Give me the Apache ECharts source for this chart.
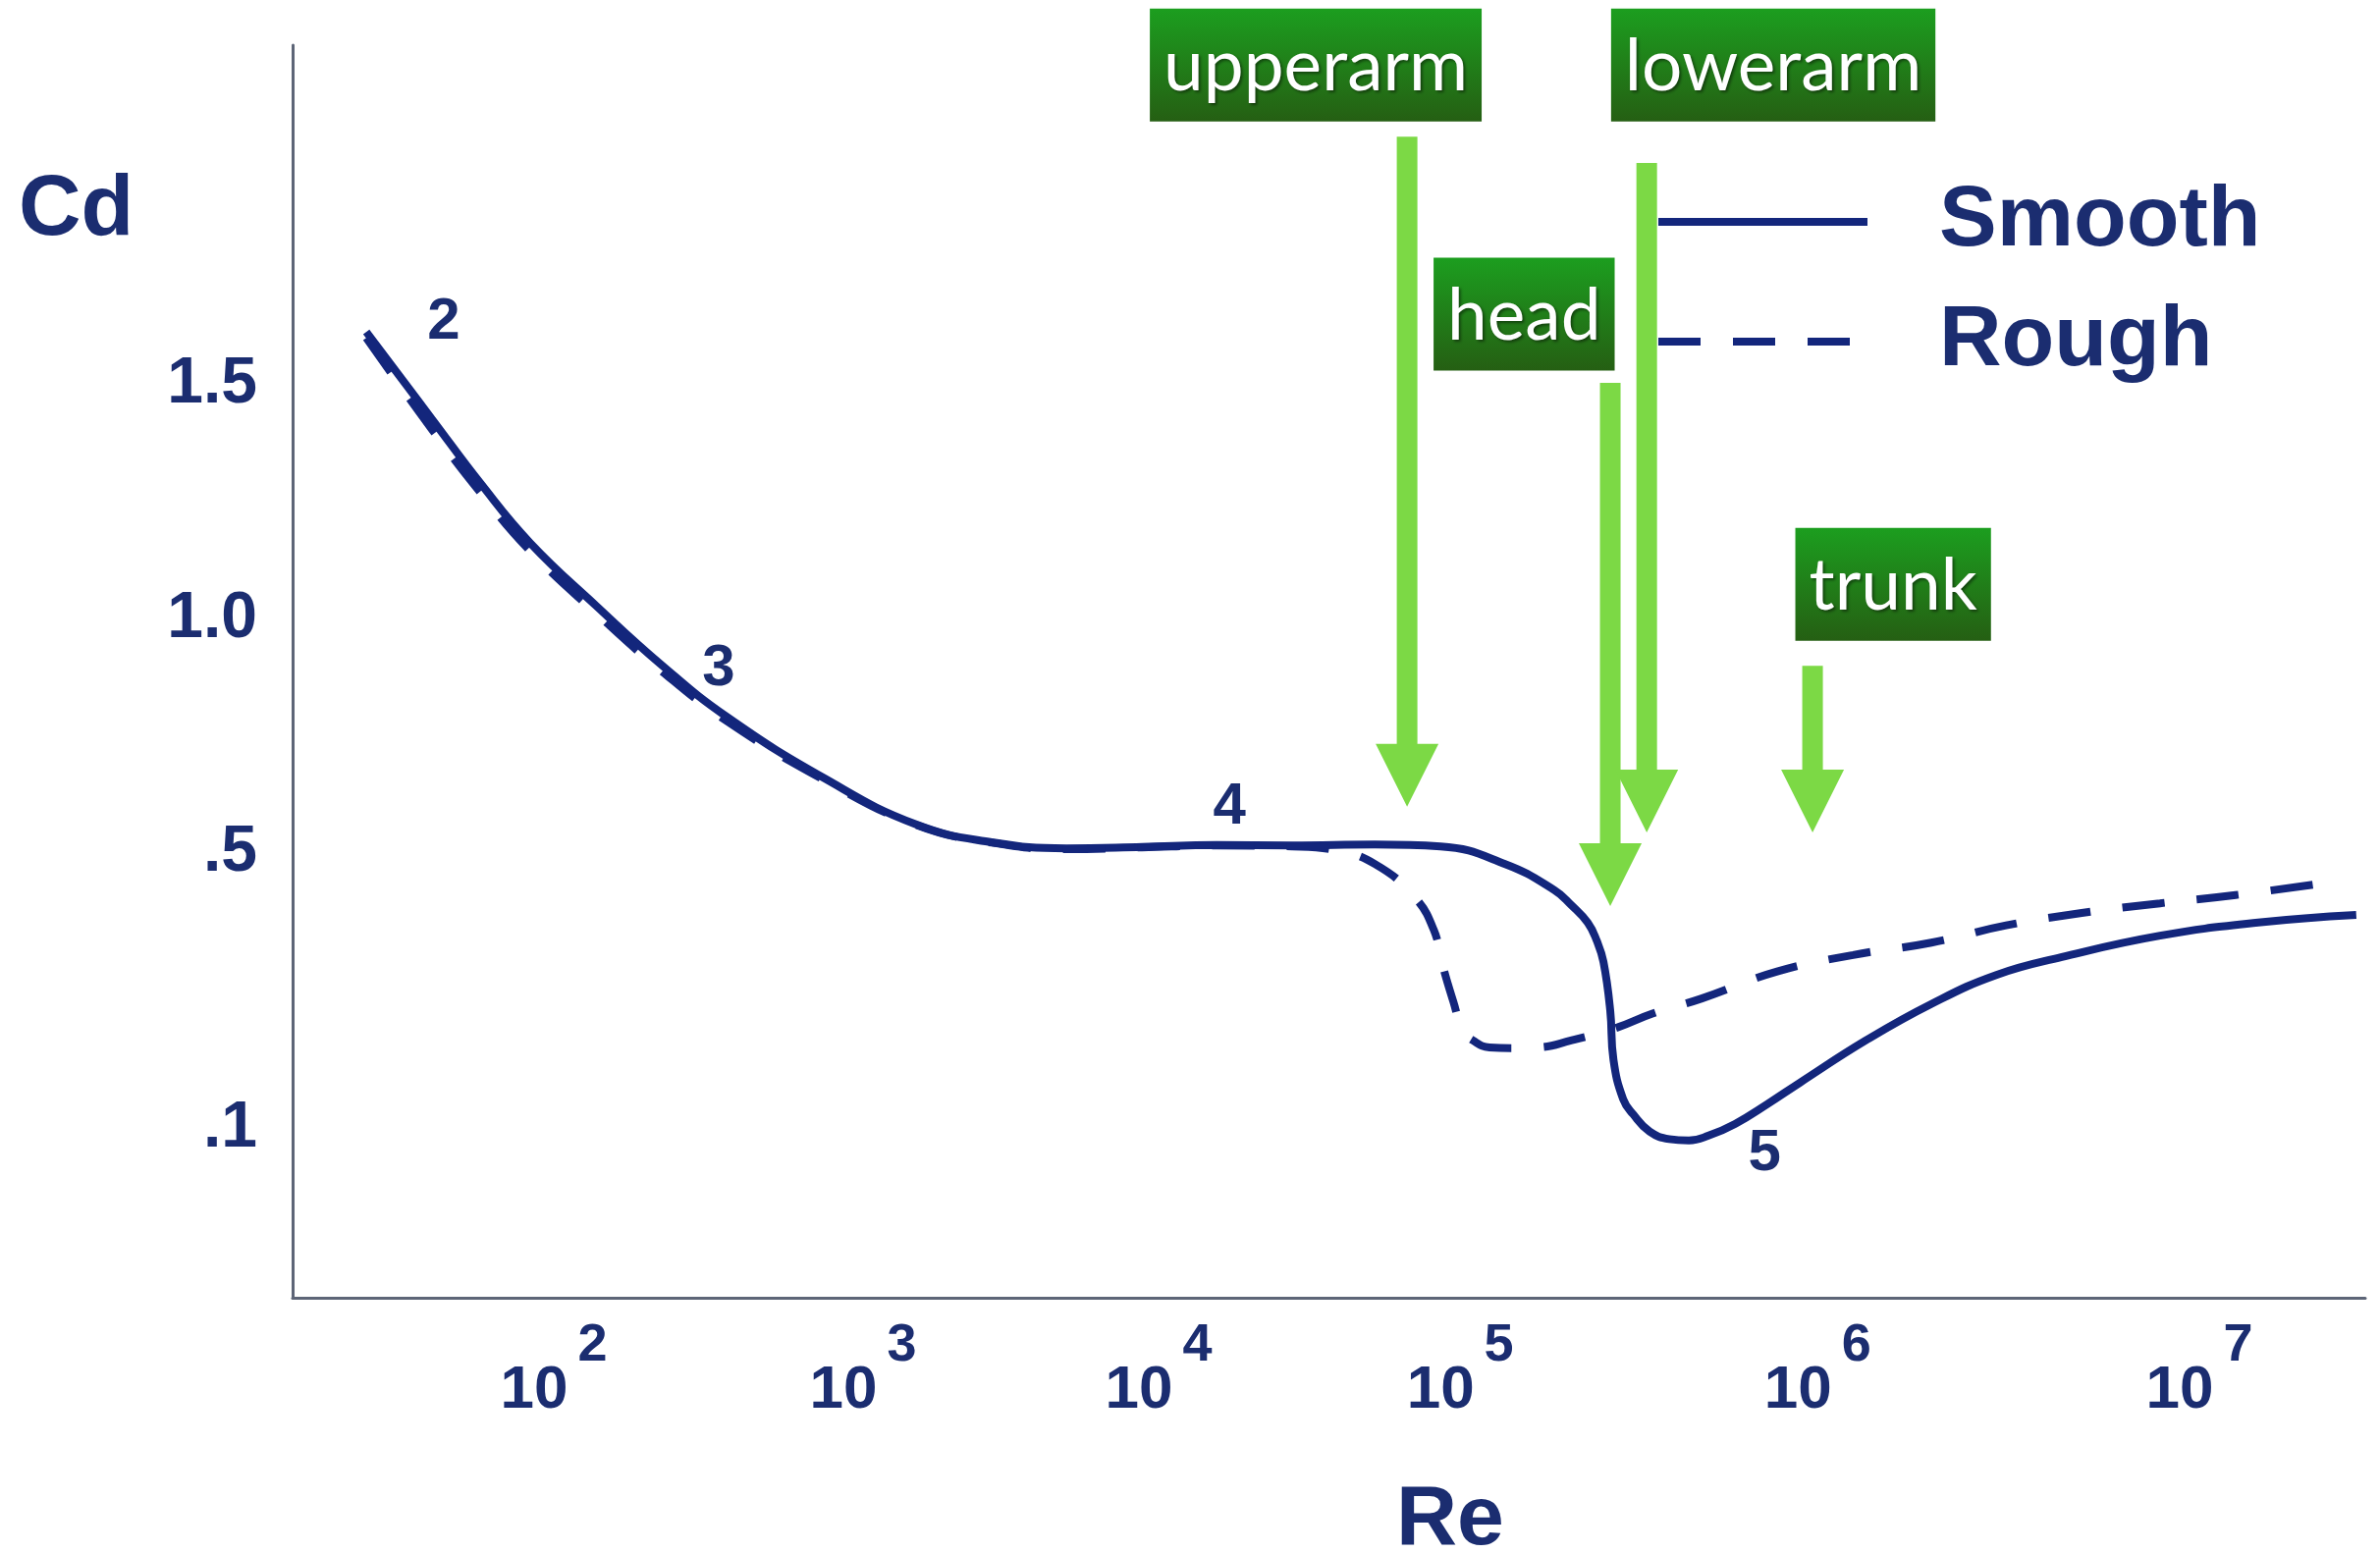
<!DOCTYPE html>
<html>
<head>
<meta charset="utf-8">
<script src="https://cdn.jsdelivr.net/npm/echarts@6/dist/echarts.min.js"></script>
<style>
html,body{margin:0;padding:0;background:#ffffff;}
#chart{width:2424px;height:1582px;}
</style>
</head>
<body>
<div id="chart"></div>
<script>
// ---------------- data ----------------
// Reynolds number given as log10(Re); drag coefficient Cd
const smoothLgRe = [1.394, 1.606, 1.765, 1.924, 2.137, 2.346, 2.559, 2.876, 3.179, 3.435, 3.688, 3.944, 4.192, 4.443, 4.717, 4.935, 5.126, 5.264, 5.310, 5.357, 5.382, 5.401, 5.420, 5.429, 5.456, 5.484, 5.530, 5.585, 5.640, 5.695, 5.769, 5.860, 5.951, 6.126, 6.298, 6.468, 6.640, 6.897, 7.154, 7.411];
const smoothCd   = [1.613, 1.427, 1.288, 1.162, 1.028, 0.903, 0.791, 0.659, 0.561, 0.523, 0.510, 0.513, 0.517, 0.516, 0.518, 0.514, 0.484, 0.446, 0.425, 0.399, 0.373, 0.342, 0.271, 0.200, 0.143, 0.121, 0.096, 0.085, 0.083, 0.090, 0.107, 0.136, 0.167, 0.228, 0.281, 0.323, 0.349, 0.380, 0.399, 0.410];

const roughLgRe = [1.394, 1.606, 1.765, 1.924, 2.137, 2.346, 2.559, 2.876, 3.179, 3.435, 3.688, 3.944, 4.192, 4.443, 4.586, 4.717, 4.847, 4.912, 4.945, 4.977, 5.008, 5.036, 5.082, 5.146, 5.220, 5.310, 5.440, 5.538, 5.676, 5.887, 6.093, 6.298, 6.494, 6.692, 6.897, 7.095, 7.360];
const roughCd   = [1.600, 1.405, 1.268, 1.145, 1.012, 0.890, 0.782, 0.655, 0.560, 0.522, 0.508, 0.512, 0.516, 0.514, 0.506, 0.484, 0.437, 0.389, 0.332, 0.285, 0.242, 0.228, 0.218, 0.217, 0.218, 0.228, 0.247, 0.267, 0.289, 0.328, 0.352, 0.370, 0.395, 0.413, 0.427, 0.439, 0.459];

const yTickValues = [1.5, 1.0, 0.5, 0.1];
const yTickLabels = ['1.5', '1.0', '.5', '.1'];
const xTickExponents = [2, 3, 4, 5, 6, 7];

const regimeLabels = ['2', '3', '4', '5'];
const regimeLgRe   = [1.644, 2.533, 4.235, 5.852];
const regimeCd     = [1.634, 0.892, 0.598, 0.064];

const bodyParts       = ['upperarm', 'head', 'lowerarm', 'trunk'];
const bodyPartLgRe    = [4.824, 5.420, 5.522, 5.986];
const bodyPartTipCd   = [0.599, 0.423, 0.544, 0.544];
const bodyPartTailCd  = [2.030, 1.504, 1.974, 0.900];
const bodyPartBoxLgRe = [4.521, 5.179, 5.876, 6.198];
const bodyPartBoxCd   = [2.183, 1.651, 2.183, 1.074];

// ---------------- the schematic (non-uniform) axis scales ----------------
const xWarpLg  = [2, 3, 4, 5, 6, 7];
const xWarpPos = [2, 2.940, 3.838, 4.754, 5.840, 7];
const yWarpCd  = [0.1, 0.5, 1.0, 1.5];
const yWarpPos = [-0.089, 0.5, 1.0, 1.5];
function interp(xs, ys, x) {
  let i = 0;
  if (x <= xs[0]) i = 0;
  else if (x >= xs[xs.length - 1]) i = xs.length - 2;
  else { while (x > xs[i + 1]) i++; }
  const t = (x - xs[i]) / (xs[i + 1] - xs[i]);
  return ys[i] + t * (ys[i + 1] - ys[i]);
}
const wx = lg => interp(xWarpLg, xWarpPos, lg);
const wy = cd => interp(yWarpCd, yWarpPos, cd);
const X_MIN = 1.2064, X_MAX = 7.5042, Y_MIN = -0.450, Y_MAX = 2.2254;

// ---------------- styles ----------------
const navy = '#1b2d70';
const curveColor = '#13267c';
const axisColor = '#5d6577';
const arrowGreen = '#7cd945';
const FONT = 'Liberation Sans, Arial, sans-serif';

const measureCtx = document.createElement('canvas').getContext('2d');
function textWidth(t, font) { measureCtx.font = font; return measureCtx.measureText(t).width; }

const chart = echarts.init(document.getElementById('chart'), null, {renderer: 'canvas'});

const option = {
  animation: false,
  backgroundColor: '#ffffff',
  title: [
    {text: 'Cd', left: 19, top: 171, padding: 0,
     textStyle: {fontSize: 88, fontWeight: 'bold', color: navy, fontFamily: FONT, lineHeight: 88}},
    {text: 'Re', left: 1422, top: 1506, padding: 0,
     textStyle: {fontSize: 86, fontWeight: 'bold', color: navy, fontFamily: FONT, lineHeight: 86}}
  ],
  legend: {
    data: ['Smooth', 'Rough'],
    orient: 'vertical',
    left: 1685, top: 176,
    padding: 0,
    itemWidth: 213, itemHeight: 14, itemGap: 22,
    selectedMode: false,
    itemStyle: {opacity: 0},
    lineStyle: {width: 8},
    textStyle: {fontSize: 88, fontWeight: 'bold', color: navy, fontFamily: FONT, lineHeight: 100, padding: [0, 0, 0, 68]}
  },
  grid: {left: 298, right: 15, top: 46, bottom: 260},
  xAxis: {
    type: 'value', min: X_MIN, max: X_MAX,
    axisLine: {show: true, onZero: false, lineStyle: {color: axisColor, width: 3}},
    axisTick: {show: false},
    splitLine: {show: false},
    axisLabel: {
      customValues: xTickExponents.map(wx),
      margin: 43,
      formatter: v => {
        const i = xTickExponents.findIndex(e => Math.abs(wx(e) - v) < 1e-6);
        return i >= 0 ? '{b|10}{e|' + xTickExponents[i] + '}' : '';
      },
      rich: {
        b: {fontSize: 62, fontWeight: 'bold', color: navy, fontFamily: FONT, lineHeight: 64, padding: [39, 0, 0, 0]},
        e: {fontSize: 54, fontWeight: 'bold', color: navy, fontFamily: FONT, lineHeight: 52, padding: [0, 0, 51, 10]}
      }
    }
  },
  yAxis: {
    type: 'value', min: Y_MIN, max: Y_MAX,
    axisLine: {show: true, onZero: false, lineStyle: {color: axisColor, width: 3}},
    axisTick: {show: false},
    splitLine: {show: false},
    axisLabel: {
      customValues: yTickValues.map(wy),
      margin: 36,
      fontSize: 66, fontWeight: 'bold', color: navy, fontFamily: FONT,
      formatter: v => {
        const i = yTickValues.findIndex(t => Math.abs(wy(t) - v) < 1e-6);
        return i >= 0 ? yTickLabels[i] : '';
      }
    }
  },
  series: [
    {
      name: 'Smooth', type: 'line',
      data: smoothLgRe.map((lg, i) => [wx(lg), wy(smoothCd[i])]),
      symbol: 'none', smooth: 0.45,
      lineStyle: {color: curveColor, width: 8},
      itemStyle: {color: curveColor},
      z: 3
    },
    {
      name: 'Rough', type: 'line',
      data: roughLgRe.map((lg, i) => [wx(lg), wy(roughCd[i])]),
      symbol: 'none', smooth: 0.45,
      lineStyle: {color: curveColor, width: 8, type: [43, 33]},
      itemStyle: {color: curveColor},
      z: 3
    },
    {
      name: 'regimes', type: 'custom', coordinateSystem: 'cartesian2d', clip: false, z: 4,
      data: regimeLabels.map((t, i) => [wx(regimeLgRe[i]), wy(regimeCd[i])]),
      renderItem: (params, api) => {
        const p = api.coord([api.value(0), api.value(1)]);
        return {
          type: 'text', x: p[0], y: p[1],
          style: {text: regimeLabels[params.dataIndex], fill: navy, fontSize: 60, fontWeight: 'bold',
                  fontFamily: FONT, align: 'center', verticalAlign: 'middle'}
        };
      }
    },
    {
      name: 'bodyparts', type: 'custom', coordinateSystem: 'cartesian2d', clip: false, z: 10,
      data: bodyParts.map((n, i) => [wx(bodyPartLgRe[i]), wy(bodyPartTailCd[i]), wy(bodyPartTipCd[i]),
                                      wx(bodyPartBoxLgRe[i]), wy(bodyPartBoxCd[i])]),
      renderItem: (params, api) => {
        const i = params.dataIndex;
        const tail = api.coord([api.value(0), api.value(1)]);
        const tip = api.coord([api.value(0), api.value(2)]);
        const box = api.coord([api.value(3), api.value(4)]);
        const x = tail[0], y0 = tail[1], y1 = tip[1];
        const sw = 10.5, hw = 32, hl = 64;
        const label = bodyParts[i];
        const bw = textWidth(label, '73px Lato') + 28, bh = 115;
        return {
          type: 'group',
          children: [
            {type: 'polygon',
             shape: {points: [[x - sw, y0], [x + sw, y0], [x + sw, y1 - hl], [x + hw, y1 - hl], [x, y1],
                              [x - hw, y1 - hl], [x - sw, y1 - hl]]},
             style: {fill: arrowGreen}},
            {type: 'rect',
             shape: {x: box[0] - bw / 2, y: box[1] - bh / 2, width: bw, height: bh},
             style: {fill: new echarts.graphic.LinearGradient(0, 0, 0, 1, [
               {offset: 0, color: '#1c9e1f'}, {offset: 1, color: '#255f13'}])}},
            {type: 'text', x: box[0], y: box[1] + 2,
             style: {text: label, fill: '#ffffff', fontSize: 73, fontFamily: 'Lato', align: 'center',
                     verticalAlign: 'middle', textShadowColor: 'rgba(0,0,0,0.45)', textShadowBlur: 3,
                     textShadowOffsetX: 2, textShadowOffsetY: 2}}
          ]
        };
      }
    }
  ]
};
chart.setOption(option);
</script>
</body>
</html>
